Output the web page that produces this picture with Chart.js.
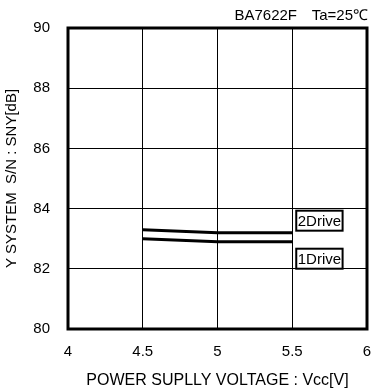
<!DOCTYPE html>
<html>
<head>
<meta charset="utf-8">
<script src="https://cdn.jsdelivr.net/npm/chart.js@4/dist/chart.umd.min.js"></script>
<style>
  html, body { margin: 0; padding: 0; background: #fff; overflow: hidden; }
  canvas { display: block; }
</style>
</head>
<body>
<canvas id="snChart" width="374" height="392"></canvas>
<script>
// Data
const vcc = [4.5, 5, 5.5];
const drive2 = [83.3, 83.2, 83.2];
const drive1 = [83.0, 82.9, 82.9];
const seriesNames = ['2Drive', '1Drive'];
const xTicks = [4, 4.5, 5, 5.5, 6];
const yTicks = [80, 82, 84, 86, 88, 90];
const partName = 'BA7622F';
const tempText = 'Ta=25\u2103';

const FONT = 'Arial, "Liberation Sans", sans-serif';

function toPoints(xs, ys) {
  return xs.map((x, i) => ({ x: x, y: ys[i] }));
}

// Frame, header and the boxed series labels
const extras = {
  id: 'extras',
  afterDraw(chart) {
    const ctx = chart.ctx;
    const a = chart.chartArea;
    const xs = chart.scales.x;
    const ys = chart.scales.y;
    ctx.save();
    ctx.strokeStyle = '#000';
    ctx.lineWidth = 3;
    ctx.strokeRect(a.left, a.top, a.right - a.left, a.bottom - a.top);

    ctx.font = '15px ' + FONT;
    ctx.fillStyle = '#000';
    ctx.textBaseline = 'middle';
    ctx.textAlign = 'right';
    ctx.fillText(tempText, a.right + 1, 16);
    ctx.fillText(partName, a.right - 70, 16);

    // label boxes next to the end of each line
    const lastX = vcc[vcc.length - 1];
    const bx = xs.getPixelForValue(lastX) + 4;
    const ends = [
      { name: seriesNames[0], y: ys.getPixelForValue(drive2[drive2.length - 1]) - 12 },
      { name: seriesNames[1], y: ys.getPixelForValue(drive1[drive1.length - 1]) + 17 }
    ];
    ctx.textAlign = 'left';
    ends.forEach(e => {
      const w = ctx.measureText(e.name).width;
      ctx.fillStyle = '#fff';
      ctx.fillRect(bx, e.y - 10, w + 3, 20);
      ctx.lineWidth = 2;
      ctx.strokeStyle = '#000';
      ctx.strokeRect(bx, e.y - 10, w + 3, 20);
      ctx.fillStyle = '#000';
      ctx.fillText(e.name, bx + 1.5, e.y + 1);
    });
    ctx.restore();
  }
};

new Chart(document.getElementById('snChart'), {
  type: 'scatter',
  data: {
    datasets: [
      {
        label: seriesNames[0],
        data: toPoints(vcc, drive2),
        showLine: true,
        borderColor: '#000',
        borderWidth: 3,
        pointRadius: 0,
        fill: false
      },
      {
        label: seriesNames[1],
        data: toPoints(vcc, drive1),
        showLine: true,
        borderColor: '#000',
        borderWidth: 3,
        pointRadius: 0,
        fill: false
      }
    ]
  },
  options: {
    responsive: false,
    animation: false,
    layout: { padding: { top: 28, right: 7, left: 0, bottom: 0 } },
    plugins: {
      legend: { display: false },
      tooltip: { enabled: false }
    },
    scales: {
      x: {
        type: 'linear',
        min: xTicks[0],
        max: xTicks[xTicks.length - 1],
        afterBuildTicks(s) { s.ticks = xTicks.map(v => ({ value: v })); },
        afterFit(s) {
          s.height = 63;
          s.paddingLeft = 0;
          s.paddingRight = 0;
        },
        grid: { color: '#000', lineWidth: 1, drawTicks: false },
        border: { display: false },
        ticks: {
          color: '#000',
          font: { family: FONT, size: 15 },
          padding: 14,
          maxRotation: 0,
          callback: v => String(v)
        },
        title: {
          display: true,
          text: 'POWER SUPLLY VOLTAGE : Vcc[V]',
          color: '#000',
          font: { family: FONT, size: 16 },
          padding: { top: 0, bottom: 2 }
        }
      },
      y: {
        type: 'linear',
        min: yTicks[0],
        max: yTicks[yTicks.length - 1],
        afterBuildTicks(s) { s.ticks = yTicks.map(v => ({ value: v })); },
        afterFit(s) {
          s.width = 68;
          s.paddingTop = 0;
          s.paddingBottom = 0;
        },
        grid: { color: '#000', lineWidth: 1, drawTicks: false },
        border: { display: false },
        ticks: {
          color: '#000',
          font: { family: FONT, size: 15 },
          padding: 18
        },
        title: {
          display: true,
          text: 'Y SYSTEM  S/N : SNY[dB]',
          color: '#000',
          font: { family: FONT, size: 15 },
          padding: { top: 3, bottom: 0 }
        }
      }
    }
  },
  plugins: [extras]
});
</script>
</body>
</html>
